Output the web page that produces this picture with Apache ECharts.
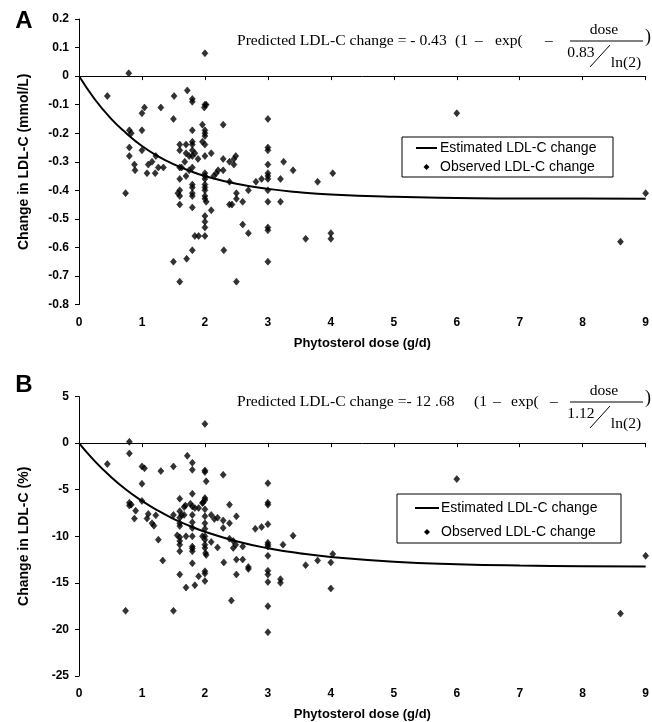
<!DOCTYPE html>
<html lang="en">
<head>
  <meta charset="UTF-8">
  <title>Phytosterol dose vs LDL-C change</title>
  <script src="https://cdn.jsdelivr.net/npm/echarts@6/dist/echarts.min.js"></script>
  <style>
    html, body { margin: 0; padding: 0; background: #fff; }
    #main { width: 652px; height: 722px; }
  </style>
</head>
<body>
<div id="main"></div>
<script>
  // panel A: observed change in LDL-C (mmol/L)
  var aDose = [0.79, 0.45, 1.51, 1.72, 1.80, 1.80, 1.04, 1.30, 1.00, 1.50, 0.80, 0.83, 1.00, 1.80, 1.60, 1.70, 1.80, 1.80,
    0.80, 1.00, 1.60, 1.70, 1.80, 1.84, 1.80, 1.75, 1.89, 0.80, 1.22, 1.16, 1.10, 0.88, 0.89, 1.26, 1.34, 1.08, 1.21,
    1.60, 1.63, 1.68, 1.80, 1.75, 1.70, 1.60, 0.74, 1.57, 1.60, 1.60, 1.80, 1.80, 1.80, 1.80, 1.60, 1.80, 1.84, 1.90,
    1.50, 1.80, 1.71, 1.60,
    2.00, 2.00, 2.02, 1.99, 1.96, 2.00, 2.00, 2.00, 1.96, 2.00, 2.10, 2.00, 2.29, 2.29, 2.29, 2.39, 2.46, 2.49, 2.46,
    2.21, 2.18, 2.14, 2.00, 2.00, 2.00, 2.00, 2.00, 2.00, 2.00, 2.00, 2.02, 2.10, 2.00, 2.00, 2.00, 2.00, 2.39, 2.50,
    2.50, 2.60, 2.39, 2.43, 2.69, 2.81, 2.90, 2.60, 2.69, 2.30, 2.50, 3.00, 3.00, 3.00, 3.00, 3.00, 3.00, 3.00, 3.00,
    3.00, 3.00, 3.00, 3.00, 3.20, 3.25, 3.20, 3.40, 3.60, 3.79, 4.03, 4.00, 4.00, 6.00, 9.00, 8.60];
  var aChange = [0.01, -0.07, -0.07, -0.05, -0.08, -0.09, -0.11, -0.11, -0.13, -0.15, -0.19, -0.20, -0.19, -0.19, -0.24, -0.24, -0.23, -0.24,
    -0.25, -0.26, -0.26, -0.27, -0.26, -0.27, -0.28, -0.28, -0.29, -0.28, -0.28, -0.30, -0.31, -0.31, -0.33, -0.32, -0.32, -0.34, -0.34,
    -0.32, -0.32, -0.30, -0.32, -0.33, -0.35, -0.36, -0.41, -0.41, -0.42, -0.40, -0.38, -0.39, -0.41, -0.42, -0.45, -0.46, -0.56, -0.56,
    -0.65, -0.61, -0.64, -0.72,
    0.08, -0.10, -0.10, -0.11, -0.17, -0.19, -0.20, -0.21, -0.23, -0.24, -0.27, -0.28, -0.17, -0.29, -0.33, -0.30, -0.29, -0.28, -0.31,
    -0.33, -0.34, -0.35, -0.34, -0.35, -0.36, -0.38, -0.39, -0.40, -0.42, -0.43, -0.44, -0.47, -0.49, -0.51, -0.53, -0.56, -0.37, -0.41,
    -0.43, -0.44, -0.45, -0.45, -0.40, -0.37, -0.36, -0.52, -0.55, -0.61, -0.72, -0.15, -0.25, -0.26, -0.31, -0.34, -0.35, -0.36, -0.40,
    -0.44, -0.53, -0.54, -0.65, -0.36, -0.30, -0.44, -0.33, -0.57, -0.37, -0.34, -0.55, -0.57, -0.13, -0.41, -0.58];

  // panel B: observed change in LDL-C (%)
  var bDose = [0.80, 0.80, 0.45, 1.00, 1.04, 1.30, 1.50, 1.72, 1.80, 1.80, 1.00, 1.60, 1.80, 0.80, 0.83, 0.80, 1.00, 0.90,
    1.10, 1.22, 0.88, 1.08, 1.16, 1.19, 1.69, 1.67, 1.77, 1.80, 1.84, 1.90, 1.60, 1.63, 1.67, 1.60, 1.50, 1.60, 1.60,
    1.80, 1.80, 1.80, 1.26, 1.33, 1.56, 1.60, 1.60, 1.60, 1.60, 1.70, 1.80, 1.80, 1.80, 1.80, 1.80, 1.60, 1.70, 1.84,
    1.90, 0.74, 1.50,
    2.00, 2.00, 2.00, 2.02, 2.29, 2.00, 2.00, 1.97, 1.96, 2.00, 2.10, 2.00, 2.00, 2.00, 2.15, 2.20, 2.29, 2.29, 2.39,
    2.39, 2.50, 2.00, 1.96, 2.00, 2.00, 2.00, 2.01, 2.02, 2.10, 2.20, 2.39, 2.45, 2.45, 2.49, 2.60, 2.30, 2.50, 2.60,
    2.69, 2.69, 2.50, 2.00, 2.00, 2.00, 2.42, 2.80, 2.90, 3.00, 3.00, 3.00, 3.00, 3.00, 3.00, 3.00, 3.00, 3.00, 3.00,
    3.00, 3.00, 3.00, 3.20, 3.20, 3.24, 3.40, 3.60, 3.79, 4.00, 4.03, 4.00, 6.00, 9.00, 8.60];
  var bChange = [0.14, -1.1, -2.25, -2.5, -2.7, -3.0, -2.5, -1.36, -2.1, -2.86, -4.36, -5.96, -5.43, -6.4, -6.6, -6.7, -6.2, -7.25,
    -7.6, -7.75, -8.1, -8.1, -8.6, -8.86, -6.7, -6.86, -6.5, -6.8, -6.96, -6.96, -7.3, -7.7, -7.7, -8.0, -7.7, -8.6, -8.9,
    -7.7, -8.5, -9.1, -10.36, -12.6, -9.9, -10.1, -10.5, -10.9, -11.6, -10.0, -10.0, -11.1, -11.3, -11.6, -12.9, -14.1, -15.5, -15.25,
    -14.3, -18.0, -18.0,
    2.07, -2.93, -3.1, -4.1, -3.4, -5.9, -6.1, -6.36, -6.43, -7.1, -7.7, -7.86, -8.6, -9.2, -8.14, -8.0, -8.3, -9.1, -6.6,
    -8.6, -7.86, -10.0, -10.0, -10.36, -10.9, -11.25, -11.8, -12.0, -10.6, -11.2, -10.25, -10.5, -11.25, -10.9, -11.1, -12.8, -12.5, -12.5,
    -13.3, -13.5, -14.1, -13.75, -14.0, -14.8, -16.9, -9.2, -9.0, -8.7, -4.3, -6.4, -6.6, -10.7, -10.9, -11.1, -12.1, -13.7,
    -14.1, -14.9, -17.5, -20.3, -14.6, -15.0, -10.9, -9.93, -13.1, -12.6, -12.8, -11.9, -15.6, -3.86, -12.1, -18.3];

  // estimated curves
  var curveDose = [0, 0.25, 0.5, 0.75, 1, 1.25, 1.5, 1.75, 2, 2.5, 3, 3.5, 4, 5, 6, 7, 8, 9];
  var aCurve = [0, -0.081, -0.147, -0.200, -0.245, -0.280, -0.308, -0.331, -0.350, -0.377, -0.395, -0.407, -0.415, -0.423, -0.427, -0.429, -0.429, -0.430];
  var bCurve = [0, -1.93, -3.58, -5.00, -6.20, -7.23, -8.12, -8.87, -9.51, -10.53, -11.28, -11.82, -12.22, -12.72, -12.99, -13.14, -13.21, -13.25];

  var xTicks = [0, 9, 1];   // min, max, step
  var legendNames = ['Estimated LDL-C change', 'Observed LDL-C change'];

  function pairs(xs, ys) {
    return xs.map(function (x, i) { return [x, ys[i]]; });
  }

  var sans = 'Arial, "Liberation Sans", sans-serif';
  var serif = '"Times New Roman", "Liberation Serif", serif';

  function xPair(grid) {
    // one axis on the zero line with ticks, one at the bottom carrying labels
    return [
      {
        gridIndex: grid, type: 'value', position: 'bottom', min: xTicks[0], max: xTicks[1], interval: xTicks[2],
        axisLine: { onZero: true, lineStyle: { color: '#000', width: 1 } },
        axisTick: { show: true, length: 4, lineStyle: { color: '#000' } },
        axisLabel: { show: false }, splitLine: { show: false }
      },
      {
        gridIndex: grid, type: 'value', position: 'bottom', min: xTicks[0], max: xTicks[1], interval: xTicks[2],
        axisLine: { show: false, onZero: false }, axisTick: { show: false }, splitLine: { show: false },
        axisLabel: { margin: 12, color: '#000', fontFamily: sans, fontWeight: 'bold', fontSize: 12 },
        name: 'Phytosterol dose (g/d)', nameLocation: 'middle', nameGap: 32,
        nameTextStyle: { color: '#000', fontFamily: sans, fontWeight: 'bold', fontSize: 13 }
      }
    ];
  }

  function yAx(grid, min, max, step, name) {
    return {
      gridIndex: grid, type: 'value', min: min, max: max, interval: step,
      axisLine: { show: true, onZero: false, lineStyle: { color: '#000', width: 1 } },
      axisTick: { show: true, length: 4, lineStyle: { color: '#000' } },
      axisLabel: { margin: 10, color: '#000', fontFamily: sans, fontWeight: 'bold', fontSize: 12 },
      splitLine: { show: false },
      name: name, nameLocation: 'middle', nameGap: 48,
      nameTextStyle: { color: '#000', fontFamily: sans, fontWeight: 'bold', fontSize: 14 }
    };
  }

  // boxed legend drawn by hand: line sample and a small diamond
  function legendBox(x, y, w, h, lineX, textX, row1, row2) {
    var txt = { font: '14px ' + sans, fill: '#000', textVerticalAlign: 'middle' };
    var mid = (lineX[0] + lineX[1]) / 2;
    return [
      { type: 'rect', shape: { x: x, y: y, width: w, height: h }, style: { fill: '#fff', stroke: '#000', lineWidth: 1 } },
      { type: 'line', shape: { x1: lineX[0], y1: row1, x2: lineX[1], y2: row1 }, style: { stroke: '#000', lineWidth: 2 } },
      { type: 'polygon', shape: { points: [[mid, row2 - 3], [mid + 3, row2], [mid, row2 + 3], [mid - 3, row2]] }, style: { fill: '#000' } },
      { type: 'text', x: textX, y: row1, style: Object.assign({ text: legendNames[0] }, txt) },
      { type: 'text', x: textX, y: row2, style: Object.assign({ text: legendNames[1] }, txt) }
    ];
  }

  // equation printed over each panel; xs = positions of "(1", "–", "exp(", "–"
  function formula(top, lead, den, xs) {
    var f = '15.6px ' + serif;
    function t(s, x, y, align) {
      return { type: 'text', x: x, y: y, style: { text: s, font: f, fill: '#000', textAlign: align || 'left', textVerticalAlign: 'middle' } };
    }
    return [
      t(lead, 237, top),
      t('(1', xs[0], top), t('\u2013', xs[1], top), t('exp(', xs[2], top), t('\u2013', xs[3], top),
      t('dose', 604, top - 11, 'center'),
      { type: 'line', shape: { x1: 570, y1: top, x2: 643, y2: top }, style: { stroke: '#000', lineWidth: 1 } },
      t(den, 581, top + 12, 'center'),
      { type: 'line', shape: { x1: 590, y1: top + 26, x2: 610, y2: top + 4 }, style: { stroke: '#000', lineWidth: 1 } },
      t('ln(2)', 626, top + 22, 'center'),
      { type: 'text', x: 648, y: top - 4, style: { text: ')', font: '18px ' + serif, fill: '#000', textAlign: 'center', textVerticalAlign: 'middle' } }
    ];
  }

  var myChart = echarts.init(document.getElementById('main'));
  var option = {
    animation: false,
    backgroundColor: '#fff',
    grid: [
      { left: 79, right: 6, top: 19, height: 285.5 },
      { left: 79, right: 6, top: 396.6, height: 280 }
    ],
    xAxis: xPair(0).concat(xPair(1)),
    yAxis: [
      yAx(0, -0.8, 0.2, 0.1, 'Change in LDL-C (mmol/L)'),
      yAx(1, -25, 5, 5, 'Change in LDL-C (%)')
    ],
    graphic: [
      { type: 'text', x: 24, y: 21, style: { text: 'A', font: 'bold 24px ' + sans, fill: '#000', textAlign: 'center', textVerticalAlign: 'middle' } },
      { type: 'text', x: 24, y: 385, style: { text: 'B', font: 'bold 24px ' + sans, fill: '#000', textAlign: 'center', textVerticalAlign: 'middle' } }
    ].concat(formula(41, 'Predicted LDL-C change = - 0.43', '0.83', [455, 475, 495, 545]))
     .concat(formula(402, 'Predicted LDL-C change =- 12 .68', '1.12', [474, 493, 511, 550]))
     .concat(legendBox(402, 137, 211, 40, [416, 437], 440, 148, 167))
     .concat(legendBox(397, 494, 224, 49, [415, 439], 441, 508, 532)),
    series: [
      {
        name: legendNames[0], type: 'line', xAxisIndex: 0, yAxisIndex: 0,
        data: pairs(curveDose, aCurve), symbol: 'none', smooth: true,
        lineStyle: { color: '#000', width: 2 }, itemStyle: { color: '#000' }
      },
      {
        name: legendNames[1], type: 'scatter', xAxisIndex: 0, yAxisIndex: 0,
        data: pairs(aDose, aChange), symbol: 'diamond', symbolSize: [6, 7],
        itemStyle: { color: '#000', borderColor: '#000', borderWidth: 0.6 }
      },
      {
        name: legendNames[0], type: 'line', xAxisIndex: 2, yAxisIndex: 1,
        data: pairs(curveDose, bCurve), symbol: 'none', smooth: true,
        lineStyle: { color: '#000', width: 2 }, itemStyle: { color: '#000' }
      },
      {
        name: legendNames[1], type: 'scatter', xAxisIndex: 2, yAxisIndex: 1,
        data: pairs(bDose, bChange), symbol: 'diamond', symbolSize: [6, 7],
        itemStyle: { color: '#000', borderColor: '#000', borderWidth: 0.6 }
      }
    ]
  };
  myChart.setOption(option);
</script>
</body>
</html>
